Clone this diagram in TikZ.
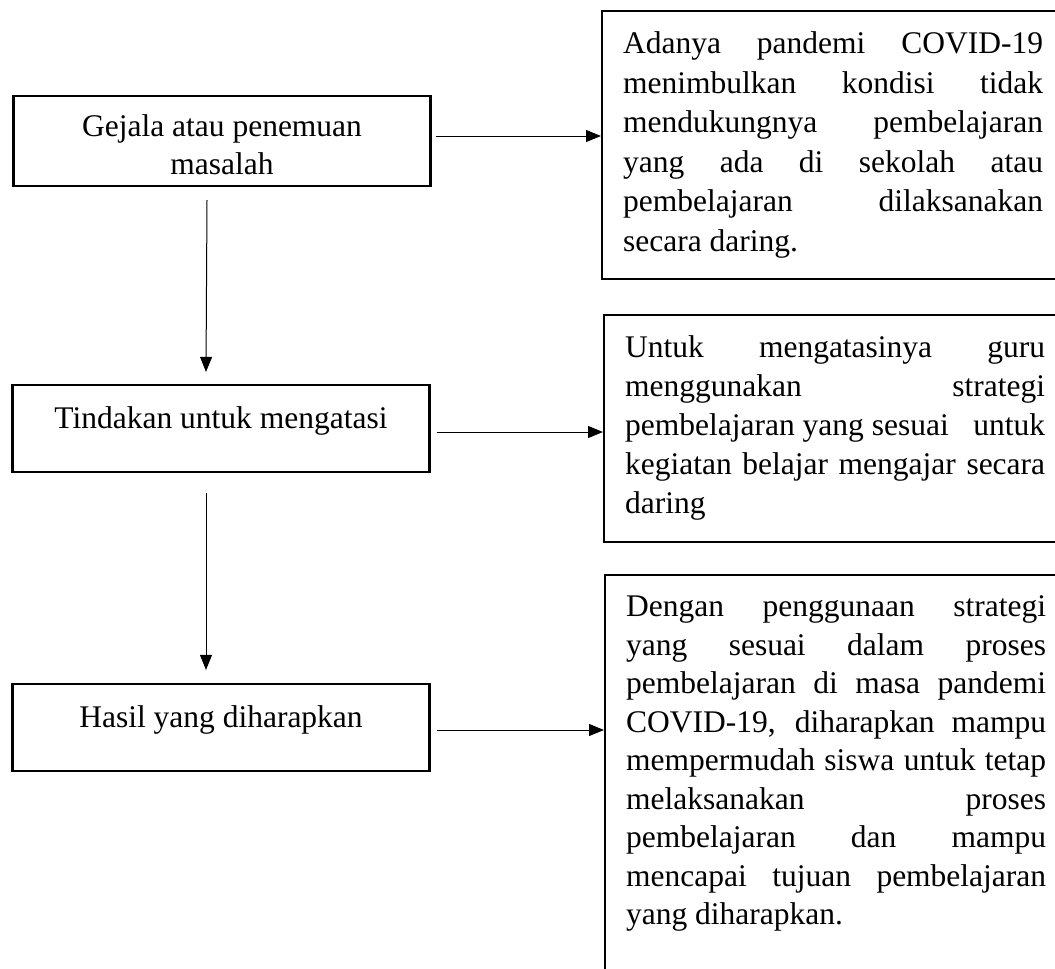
\documentclass[tikz,border=0pt]{standalone}
\usepackage{fontspec}
\setmainfont{Liberation Serif}
\usetikzlibrary{positioning,arrows.meta}
% one justified line inside a box
\newlength{\ketw}
\setlength{\ketw}{420pt}
\newcommand{\jl}[1]{\makebox[\ketw][s]{#1}\par}

\begin{document}
\begin{tikzpicture}[x=1pt,y=-1pt,
  box/.style={rectangle, draw, line width=2.2pt, align=center, inner sep=0pt,
              minimum width=417pt, font=\fontsize{31.5}{38}\selectfont},
  ketbox/.style={rectangle, draw, line width=2.2pt, anchor=north west, inner sep=21pt,
              text width=\ketw, align=justify, font=\fontsize{31.5}{39}\selectfont},
  flow/.style={-{Triangle[length=15pt,width=12pt]}, line width=1pt}]
  \clip (0,0) rectangle (1055,969);
  \fill[white] (0,0) rectangle (1055,969);
  % left column
  \node[box, minimum height=90pt](gejala) at (222,141)
    {\rule{0pt}{30pt}Gejala atau penemuan\\masalah};
  \node[box, minimum height=87pt](tindakan) at (221,428.5)
    {\rule[-30pt]{0pt}{60pt}Tindakan untuk mengatasi};
  \node[box, minimum height=87pt](hasil) at (221,727.5)
    {\rule[-30pt]{0pt}{60pt}Hasil yang diharapkan};
  % right column
  \node[ketbox, font=\fontsize{31.5}{39.5}\selectfont](dampak) at (601,10){%
    \jl{Adanya pandemi COVID-19}
    \jl{menimbulkan kondisi tidak}
    \jl{mendukungnya pembelajaran}
    \jl{yang ada di sekolah atau}
    \jl{pembelajaran dilaksanakan}
    secara daring.};
  \node[ketbox](solusi) at (603,314){%
    \jl{Untuk mengatasinya guru}
    \jl{menggunakan strategi}
    \jl{pembelajaran yang sesuai\hfill untuk}
    \jl{kegiatan belajar mengajar secara}
    daring};
  \node[ketbox, font=\fontsize{31.5}{38.5}\selectfont](harapan) at (604,574){%
    \jl{Dengan penggunaan strategi}
    \jl{yang sesuai dalam proses}
    \jl{pembelajaran di masa pandemi}
    \jl{COVID-19, diharapkan mampu}
    \jl{mempermudah siswa untuk tetap}
    \jl{melaksanakan proses}
    \jl{pembelajaran dan mampu}
    \jl{mencapai tujuan pembelajaran}
    yang diharapkan.\par\mbox{}};
  % connectors
  \draw[flow]([xshift=-15pt,yshift=-13pt]gejala.south)--([xshift=-15pt,yshift=12pt]tindakan.north);
  \draw[flow]([xshift=-15pt,yshift=-20pt]tindakan.south)--([xshift=-15pt,yshift=13pt]hasil.north);
  \draw[flow]([xshift=4pt,yshift=5pt]gejala.east) coordinate (g1)--(g1 -| dampak.west);
  \draw[flow]([xshift=6pt,yshift=-3.5pt]tindakan.east) coordinate (t1)--(t1 -| solusi.west);
  \draw[flow]([xshift=6pt,yshift=-2.5pt]hasil.east) coordinate (h1)--(h1 -| harapan.west);
\end{tikzpicture}
\end{document}
